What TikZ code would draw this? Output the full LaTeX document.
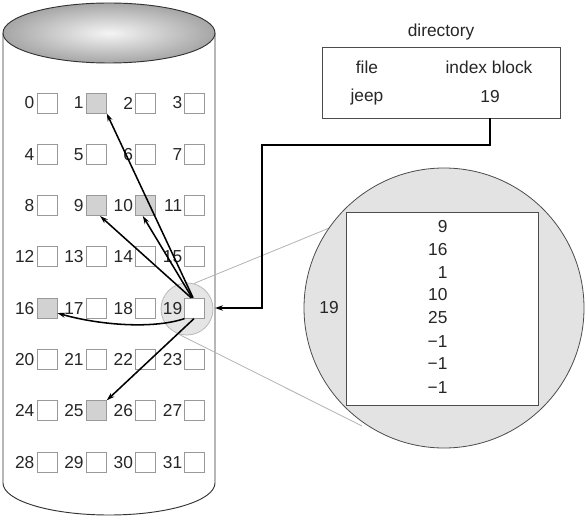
\documentclass[tikz,border=0pt]{standalone}
\usepackage{fontspec}
\setmainfont{Liberation Sans}
\usetikzlibrary{arrows.meta,calc}
\begin{document}
\begin{tikzpicture}[x=0.75pt,y=-0.75pt,
  font=\fontsize{13}{15}\selectfont,
  blk/.style={draw=gray!80, fill=white, line width=0.65pt, minimum size=15pt, inner sep=0pt},
  used/.style={blk, fill=gray!35},
  num/.style={anchor=east, inner sep=1.5pt, text=black!85},
  ptr/.style={line width=1.15pt, -{Stealth[length=6pt,width=3.8pt]}},
  txt/.style={inner sep=1pt, text=black!85},
  thin gray/.style={draw=gray!60!black, line width=0.6pt}]
\useasboundingbox (0,0) rectangle (588,524);
% cylinder
\draw[gray!40!black, line width=0.7pt, fill=white] (3,33) -- (3,483)
  .. controls (3,500.7) and (50.5,515) .. (109,515)
  .. controls (167.5,515) and (215,500.7) .. (215,483) -- (215,33);
\shadedraw[inner color=gray!8, outer color=gray!70, draw=gray!40!black, line width=0.7pt]
  (109,33) ellipse [x radius=106, y radius=30];
% magnifier circle around block 19
\node[circle, fill=gray!20, draw=gray!55, line width=0.6pt, minimum size=39pt, inner sep=0pt] (sc) at (187,309) {};
% blocks
\foreach \i in {0,...,31} {
  \pgfmathtruncatemacro\r{floor(\i/4)}
  \pgfmathtruncatemacro\c{mod(\i,4)}
  \node[blk] (b\i) at ({47+49.3*\c},{103+51.3*\r}) {};
  \node[num] (l\i) at (b\i.west) {\i};
}
\foreach \i in {1,9,10,16,25} { \node[used] (u\i) at (b\i) {}; }
% zoom lines and big circle
\draw[gray!60, line width=0.6pt] (sc.75) -- (344,222);
\draw[gray!60, line width=0.6pt] (sc.250) -- (362,426);
\node[circle, fill=gray!22, thin gray, minimum size=210pt, inner sep=0pt] (bc) at (444,308) {};
\node[thin gray, fill=white, minimum width=144pt, minimum height=144.75pt, inner sep=0pt] (ib) at (442,308.5) {};
\foreach \v/\y in {9/227,16/250,1/273,10/295,25/318,−1/342,−1/364,−1/388} {
  \node[txt, anchor=east] (n\y) at (449,\y) {\v};
}
\node[txt] (bl19) at (329,308) {19};
% directory
\node[thin gray, minimum width=178.5pt, minimum height=53.25pt, inner sep=0pt] (dir) at (441,82.5) {};
\node[txt] (dtitle) at (441,32) {directory};
\node[txt] (dfile) at (367,67) {file};
\node[txt] (dindex) at (489,67) {index block};
\node[txt] (djeep) at (367,97) {jeep};
\node[txt] (d19) at (490,97) {19};
\coordinate (c1) at (262,145);
\coordinate (cylR) at (215,308);
\draw[line width=1.4pt, -{Stealth[length=6pt,width=4pt]}] (d19 |- dir.south) |- (c1) |- (cylR);
% pointers
\draw[ptr] (b19.100) -- (b1.south east);
\draw[ptr] (b19.110) -- (b9.-70);
\draw[ptr] (b19.105) -- (b10.-105);
\draw[ptr] (b19.south west) .. controls (150,330) and (95,324) .. (b16.-25);
\draw[ptr] (b19.-95) -- (b25.north east);
\end{tikzpicture}
\end{document}
